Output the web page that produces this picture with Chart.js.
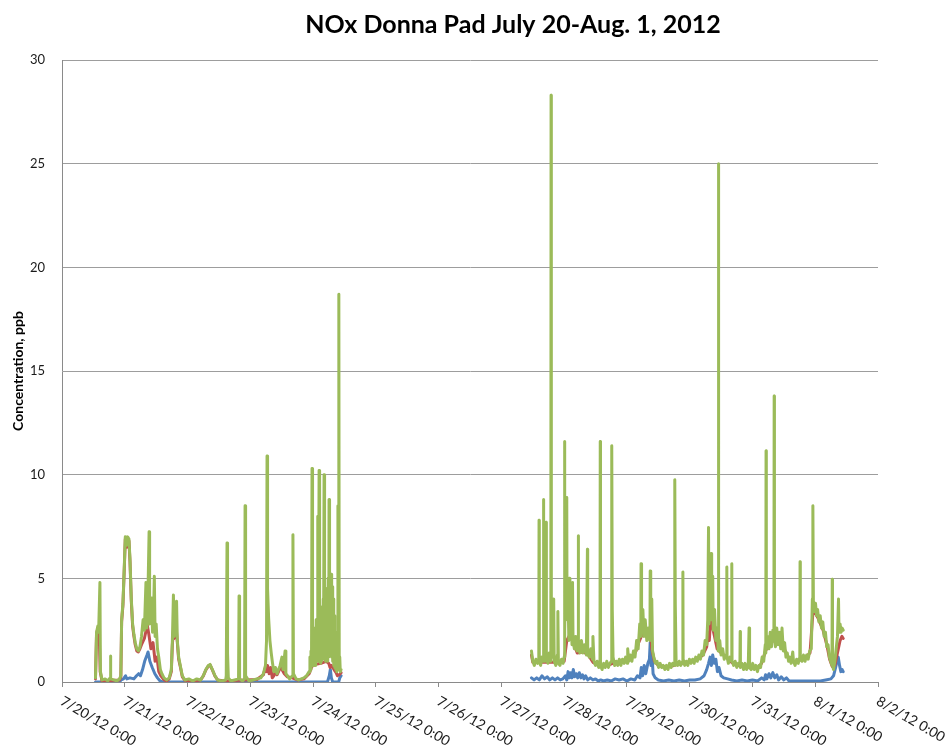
<!DOCTYPE html>
<html>
<head>
<meta charset="utf-8">
<script src="https://cdn.jsdelivr.net/npm/chart.js@4.4.1/dist/chart.umd.min.js"></script>
<style>
  html, body { margin: 0; padding: 0; background: #ffffff; }
  canvas { display: block; }
</style>
</head>
<body>
<canvas id="nox" width="946" height="748"></canvas>
<script>
// Readings as [hours since 7/20/12 0:00, ppb]; the monitor was offline 7/24 - 7/27.
const chartTitle = 'NOx Donna Pad July 20-Aug. 1, 2012';
const yAxisTitle = 'Concentration, ppb';
const dayLabels = ['7/20/12 0:00', '7/21/12 0:00', '7/22/12 0:00', '7/23/12 0:00', '7/24/12 0:00',
  '7/25/12 0:00', '7/26/12 0:00', '7/27/12 0:00', '7/28/12 0:00', '7/29/12 0:00', '7/30/12 0:00',
  '7/31/12 0:00', '8/1/12 0:00', '8/2/12 0:00'];

// NOx, 7/20 - 7/24
const noxFirstRun = [[12.8,0.2],[13.2,2.4],[13.7,2.7],[14.0,2.4],[14.5,4.8],[14.7,0.5],[15.3,0.1],[16.5,0.15],[17.5,0.05],[18.4,0.2],[18.5,1.25],[18.7,0.15],[19.8,0.1],[21.0,0.05],[22.0,0.15],[22.5,0.3],[22.8,3.0],[23.3,3.8],[23.8,5.5],[24.2,7.0],[24.7,6.6],[25.1,7.0],[25.6,6.9],[26.0,5.9],[26.5,4.0],[27.0,2.8],[27.5,2.3],[28.0,1.9],[28.6,1.6],[29.2,1.5],[29.8,1.7],[30.4,2.2],[31.0,3.0],[31.5,2.5],[32.1,4.8],[32.4,2.6],[32.8,3.8],[33.3,7.25],[33.5,2.8],[34.0,3.5],[34.3,4.05],[34.6,2.4],[35.0,3.2],[35.3,5.1],[35.6,2.2],[36.0,2.8],[36.5,1.6],[37.0,1.2],[37.6,0.6],[38.2,0.4],[39.0,0.2],[40.0,0.1],[41.0,0.2],[41.8,0.6],[42.2,2.0],[42.6,4.2],[42.9,2.2],[43.3,2.4],[43.8,3.9],[44.1,2.0],[44.6,1.2],[45.3,0.75],[46.0,0.3],[47.0,0.1],[48.5,0.15],[50.0,0.05],[51.5,0.15],[53.0,0.1],[54.0,0.3],[55.0,0.6],[56.0,0.8],[56.6,0.85],[57.5,0.6],[58.5,0.3],[59.5,0.1],[61.0,0.05],[62.6,0.1],[62.8,0.3],[63.1,6.7],[63.3,1.4],[63.6,0.2],[64.5,0.05],[66.0,0.1],[67.5,0.15],[67.7,4.15],[67.9,0.15],[69.0,0.05],[69.8,0.15],[70.0,8.5],[70.2,0.3],[71.5,0.05],[73.0,0.1],[74.5,0.15],[76.0,0.2],[77.0,0.4],[77.8,0.8],[78.2,2.0],[78.4,10.9],[78.6,4.5],[79.0,3.1],[79.5,2.0],[80.0,1.4],[80.5,0.9],[81.0,0.5],[81.6,0.7],[82.2,0.4],[82.8,0.6],[83.4,0.8],[84.1,1.2],[84.5,0.6],[85.3,1.5],[85.6,0.4],[86.2,0.3],[87.0,0.15],[88.1,0.3],[88.3,7.1],[88.5,0.4],[89.5,0.15],[90.5,0.1],[91.5,0.15],[92.5,0.2],[93.5,0.3],[94.5,0.5],[94.8,1.2],[95.0,0.6],[95.2,1.5],[95.4,0.8],[95.6,10.3],[95.8,0.9],[96.0,2.4],[96.2,0.8],[96.4,2.2],[96.6,0.9],[96.8,2.6],[97.0,0.8],[97.2,3.0],[97.4,1.0],[97.6,2.8],[97.8,8.0],[98.0,1.0],[98.1,3.2],[98.3,10.2],[98.5,1.0],[98.7,3.4],[98.9,0.9],[99.1,3.6],[99.3,1.0],[99.5,3.2],[99.7,1.1],[99.9,4.0],[100.0,1.2],[100.2,10.0],[100.4,1.2],[100.6,4.2],[100.8,1.0],[101.0,4.5],[101.2,1.2],[101.4,3.8],[101.6,1.0],[101.8,5.0],[102.0,1.2],[102.1,8.8],[102.3,1.5],[102.5,5.0],[102.7,1.4],[102.9,5.2],[103.1,1.2],[103.3,4.6],[103.5,1.0],[103.7,4.0],[103.9,0.8],[104.1,3.2],[104.3,0.7],[104.5,2.4],[104.7,0.6],[104.9,1.6],[105.1,0.5],[105.3,1.2],[105.5,8.5],[105.6,0.6],[105.8,1.5],[105.9,18.7],[106.0,0.6],[106.2,1.2],[106.4,0.5],[106.7,0.6]];

// NOx, 7/27 - 8/1
const noxSecondRun = [[179.5,1.5],[180.0,1.0],[180.6,0.8],[181.2,1.1],[181.8,0.9],[182.3,1.0],[182.4,7.8],[182.5,1.0],[183.0,0.8],[183.5,1.2],[184.0,1.0],[184.1,8.8],[184.2,1.3],[184.7,1.0],[185.1,7.7],[185.2,1.2],[185.8,0.9],[186.3,1.4],[186.9,1.0],[187.0,28.3],[187.1,1.5],[187.6,1.2],[188.0,4.0],[188.2,1.0],[188.8,0.8],[189.4,1.3],[189.6,3.4],[189.8,0.9],[190.4,0.8],[191.0,1.1],[191.6,0.9],[192.0,1.2],[192.1,11.6],[192.3,2.5],[192.6,5.5],[192.9,4.0],[193.0,8.9],[193.1,3.0],[193.5,4.0],[193.8,2.0],[194.0,5.0],[194.2,2.4],[194.6,3.2],[195.0,1.8],[195.2,4.8],[195.4,2.0],[195.9,1.6],[196.4,2.2],[196.9,1.5],[197.3,2.2],[197.4,7.05],[197.5,1.8],[198.0,1.4],[198.6,2.0],[199.2,1.4],[199.8,1.8],[200.5,1.3],[200.9,6.4],[201.0,1.4],[201.6,1.2],[202.2,1.6],[202.8,1.1],[203.0,2.2],[203.4,1.0],[204.0,0.8],[204.6,1.0],[205.2,0.7],[205.7,0.9],[205.8,11.6],[205.9,0.8],[206.5,0.6],[207.1,0.9],[207.7,0.7],[208.3,1.0],[208.9,0.7],[209.5,0.9],[210.1,1.0],[210.2,11.4],[210.4,3.5],[210.7,1.2],[211.3,0.8],[211.9,1.0],[212.5,0.8],[213.1,1.1],[213.7,0.8],[214.3,1.1],[214.9,0.9],[215.5,1.2],[216.1,0.9],[216.3,1.6],[216.7,1.0],[217.3,1.3],[217.9,1.0],[218.5,1.5],[219.1,1.2],[219.7,2.0],[220.3,1.6],[220.9,2.8],[221.3,2.2],[221.4,5.7],[221.6,2.5],[222.1,3.5],[222.5,2.2],[223.0,3.0],[223.6,2.0],[224.2,2.6],[224.8,2.0],[224.9,5.35],[225.1,2.5],[225.5,4.0],[225.8,1.5],[226.3,1.2],[226.9,0.9],[227.5,1.0],[228.1,0.7],[228.7,0.9],[229.3,0.7],[229.9,0.8],[230.5,0.6],[231.1,0.8],[231.7,0.6],[232.3,0.9],[232.9,0.7],[233.5,0.9],[234.1,0.8],[234.3,9.75],[234.5,3.7],[234.8,1.0],[235.4,0.8],[236.0,1.0],[236.6,0.8],[237.3,1.0],[237.4,5.3],[237.5,1.1],[238.1,0.8],[238.7,1.0],[239.3,0.8],[239.9,1.1],[240.5,0.9],[241.1,1.1],[241.7,0.9],[242.3,1.2],[242.9,1.0],[243.5,1.3],[244.1,1.1],[244.7,1.5],[245.3,1.3],[245.9,2.0],[246.5,1.8],[246.9,3.0],[247.2,7.45],[247.4,2.8],[247.8,4.0],[248.2,6.2],[248.4,3.0],[248.8,5.1],[249.0,2.5],[249.5,3.5],[250.0,2.0],[250.5,2.6],[250.9,1.5],[251.0,25.0],[251.1,1.6],[251.5,2.0],[252.0,1.3],[252.6,1.6],[253.2,1.1],[253.8,1.3],[254.1,1.2],[254.2,5.55],[254.3,1.2],[254.8,0.9],[255.4,1.2],[256.0,1.0],[256.1,5.7],[256.2,1.0],[256.8,0.8],[257.4,1.0],[258.0,0.7],[258.6,0.9],[259.2,0.8],[259.3,2.43],[259.4,0.7],[260.0,0.9],[260.6,0.6],[261.2,0.9],[261.8,0.6],[262.4,0.8],[262.7,2.6],[262.9,0.7],[263.5,0.6],[264.1,0.9],[264.7,0.6],[265.3,0.8],[265.9,0.5],[266.5,0.8],[267.1,0.7],[267.7,1.2],[268.3,1.0],[268.9,1.8],[269.1,1.4],[269.2,11.15],[269.3,1.6],[269.8,2.2],[270.3,1.6],[270.8,2.4],[271.3,1.7],[271.8,2.5],[272.2,2.0],[272.3,13.8],[272.4,2.2],[272.8,1.7],[273.3,2.6],[273.8,1.8],[274.3,2.4],[274.8,1.6],[275.3,2.6],[275.8,1.5],[276.3,1.9],[276.8,1.2],[277.3,1.4],[277.8,1.0],[278.3,1.2],[278.8,0.9],[279.4,1.45],[279.7,1.0],[280.3,0.8],[280.9,1.1],[281.5,0.9],[282.1,1.2],[282.2,5.8],[282.3,1.2],[282.9,1.0],[283.5,1.3],[284.1,1.0],[284.7,1.3],[285.3,1.1],[285.9,1.5],[286.5,1.6],[286.9,4.0],[287.1,8.5],[287.3,3.9],[287.7,3.4],[288.1,3.8],[288.5,3.2],[288.9,3.5],[289.4,2.9],[289.9,3.2],[290.4,2.6],[290.9,2.9],[291.4,2.2],[291.9,2.4],[292.4,1.7],[292.9,1.8],[293.4,1.2],[293.9,1.0],[294.4,0.8],[294.5,4.95],[294.6,0.8],[295.0,0.6],[295.5,1.0],[296.0,1.6],[296.5,2.2],[296.9,4.0],[297.1,2.4],[297.5,2.8],[297.9,2.4],[298.3,2.6],[298.7,2.5]];

// NO2
const no2FirstRun = [[12.8,0.15],[13.2,2.3],[13.7,2.6],[14.0,2.3],[14.3,2.0],[14.6,0.5],[15.3,0.05],[22.0,0.1],[22.5,0.25],[22.8,2.9],[23.3,3.7],[23.8,5.4],[24.2,6.9],[24.7,6.5],[25.1,6.9],[25.6,6.8],[26.0,5.8],[26.5,3.9],[27.0,2.7],[27.5,2.2],[28.0,1.8],[28.6,1.5],[29.2,1.45],[29.8,1.6],[30.4,1.8],[31.5,2.1],[32.6,2.75],[33.2,2.3],[34.0,1.6],[34.8,1.9],[35.6,1.0],[36.3,1.2],[37.0,0.5],[37.8,0.3],[39.0,0.1],[40.0,0.05],[41.0,0.15],[41.8,0.5],[42.2,1.8],[42.6,2.5],[42.9,2.1],[43.3,2.3],[43.8,2.4],[44.1,1.9],[44.6,1.1],[45.3,0.7],[46.0,0.25],[47.0,0.08],[50.0,0.05],[53.0,0.1],[54.0,0.28],[55.0,0.58],[56.0,0.78],[56.6,0.82],[57.5,0.58],[58.5,0.28],[59.5,0.1],[62.0,0.05],[70.0,0.1],[74.5,0.12],[77.0,0.35],[77.8,0.7],[78.2,0.5],[78.6,0.8],[79.2,0.4],[79.8,0.7],[80.4,0.2],[81.0,0.3],[81.6,0.5],[82.2,0.35],[82.8,0.5],[83.4,0.7],[84.1,0.6],[85.0,0.4],[86.2,0.25],[88.0,0.2],[90.0,0.1],[92.5,0.15],[94.5,0.4],[95.5,0.75],[97.0,0.85],[99.0,0.9],[101.0,1.0],[102.0,0.9],[102.5,0.7],[103.0,0.8],[104.0,0.6],[104.8,0.45],[105.3,0.3],[106.0,0.35],[106.7,0.45]];
const no2SecondRun = [[179.5,1.3],[180.0,0.95],[184.0,0.95],[188.0,0.95],[192.0,1.0],[193.0,2.0],[194.5,2.35],[195.5,1.9],[197.0,1.4],[199.0,1.45],[201.0,1.35],[203.0,0.95],[205.0,0.82],[207.0,0.8],[209.0,0.82],[211.0,0.92],[214.0,0.95],[216.0,1.0],[218.0,1.2],[219.5,1.5],[220.5,1.9],[221.5,2.2],[222.5,2.3],[223.5,2.2],[224.3,2.3],[224.9,2.6],[225.5,1.6],[226.5,1.0],[228.0,0.8],[231.0,0.72],[234.0,0.8],[237.0,0.9],[240.0,0.95],[243.0,1.1],[245.0,1.3],[246.5,1.7],[247.0,2.4],[247.5,2.0],[248.2,3.5],[248.8,2.6],[249.5,2.2],[250.5,1.6],[252.0,1.4],[254.0,1.2],[256.0,0.95],[258.0,0.82],[260.0,0.75],[262.0,0.72],[264.0,0.7],[266.0,0.68],[267.5,0.9],[269.0,1.5],[271.0,1.95],[273.0,2.0],[275.0,1.9],[276.5,1.5],[278.0,1.1],[280.0,0.95],[282.0,1.05],[284.0,1.15],[286.0,1.4],[287.2,3.5],[289.0,3.1],[291.0,2.5],[292.5,1.75],[293.5,1.1],[294.5,0.75],[295.5,0.8],[296.5,1.4],[297.5,2.0],[298.2,2.2],[298.7,2.1]];

// NO
const noFirstRun = [[12.8,0],[22.0,0],[22.6,0.1],[23.5,0.15],[24.3,0.3],[24.8,0.15],[26.0,0.2],[27.5,0.15],[28.5,0.3],[29.3,0.4],[30.0,0.3],[30.8,0.6],[31.6,1.0],[32.5,1.3],[32.9,1.45],[33.6,1.0],[34.5,0.7],[35.5,0.4],[36.5,0.2],[37.5,0.05],[38.5,0],[101.5,0],[102.2,0.3],[102.6,0.6],[103.0,0.2],[103.5,0],[105.8,0],[106.2,0.2],[106.7,0.3]];
const noSecondRun = [[179.5,0.2],[180.5,0.1],[181.5,0.2],[182.5,0.1],[183.5,0.3],[184.5,0.15],[185.5,0.25],[186.5,0.1],[187.5,0.2],[188.5,0.1],[189.5,0.2],[190.5,0.1],[191.5,0.15],[192.5,0.3],[193.0,0.1],[193.5,0.5],[194.0,0.2],[194.5,0.45],[195.0,0.2],[195.5,0.6],[196.0,0.25],[196.6,0.4],[197.2,0.2],[197.8,0.45],[198.4,0.2],[199.0,0.35],[199.6,0.15],[200.2,0.3],[201.0,0.1],[202.0,0.2],[203.0,0.1],[204.0,0.15],[205.0,0.05],[206.0,0.1],[207.0,0.05],[208.5,0.1],[210.0,0.05],[211.5,0.15],[213.0,0.1],[214.5,0.15],[216.0,0.05],[217.5,0.15],[219.0,0.1],[220.0,0.3],[221.0,0.2],[221.5,0.7],[222.0,0.3],[222.6,0.8],[223.2,0.4],[224.0,0.9],[224.6,1.1],[224.9,1.9],[225.2,0.8],[225.6,1.3],[226.0,0.4],[226.8,0.2],[228.0,0.1],[230.0,0.05],[232.0,0.1],[234.0,0.05],[236.0,0.1],[238.0,0.05],[240.0,0.1],[242.0,0.1],[244.0,0.15],[245.5,0.3],[246.5,0.6],[247.2,0.9],[247.8,1.2],[248.3,0.8],[248.8,1.3],[249.4,0.9],[250.0,1.1],[250.6,0.5],[251.2,0.7],[252.0,0.3],[253.0,0.2],[254.5,0.15],[256.0,0.1],[258.0,0.05],[260.0,0.1],[262.0,0.05],[264.0,0.1],[266.0,0.05],[267.5,0.2],[268.5,0.1],[269.0,0.35],[269.5,0.15],[270.3,0.4],[271.0,0.2],[271.8,0.45],[272.5,0.2],[273.3,0.35],[274.0,0.1],[275.0,0.25],[276.0,0.1],[277.0,0.2],[278.0,0.05],[280.0,0.05],[282.0,0.05],[284.0,0.05],[286.0,0.05],[288.0,0.05],[290.0,0.05],[292.0,0.1],[294.0,0.15],[295.0,0.3],[295.8,0.7],[296.3,1.0],[296.8,1.2],[297.3,0.8],[297.8,0.5],[298.3,0.6],[298.7,0.5]];

const outageHour = 140; // break the line while the analyzer was down

function toSeries(firstRun, secondRun) {
  const pts = firstRun.map(([h, v]) => ({ x: h, y: v }));
  pts.push({ x: outageHour, y: null });
  secondRun.forEach(([h, v]) => pts.push({ x: h, y: v }));
  return pts;
}

// Rotated date labels under the axis and the centred heading.
const axisText = {
  id: 'axisText',
  afterDraw(chart) {
    const ctx = chart.ctx;
    const xs = chart.scales.x;
    ctx.save();
    ctx.fillStyle = '#000000';
    ctx.font = 'bold 25px Lato';
    ctx.textAlign = 'center';
    ctx.textBaseline = 'middle';
    ctx.fillText(chartTitle, 513, 25, 417);
    ctx.font = '14px Lato';
    ctx.fillStyle = '#1a1a1a';
    ctx.textAlign = 'left';
    ctx.textBaseline = 'top';
    xs.ticks.forEach((t, i) => {
      const px = xs.getPixelForValue(t.value);
      ctx.save();
      ctx.translate(px + 3, xs.top + 12);
      ctx.rotate(30 * Math.PI / 180);
      ctx.fillText(dayLabels[i], 0, 0, 86);
      ctx.restore();
    });
    ctx.restore();
  }
};

new Chart(document.getElementById('nox'), {
  type: 'line',
  data: {
    datasets: [
      { label: 'NOx', data: toSeries(noxFirstRun, noxSecondRun), borderColor: '#9BBB59', backgroundColor: '#9BBB59' },
      { label: 'NO2', data: toSeries(no2FirstRun, no2SecondRun), borderColor: '#C0504D', backgroundColor: '#C0504D' },
      { label: 'NO', data: toSeries(noFirstRun, noSecondRun), borderColor: '#4F81BD', backgroundColor: '#4F81BD' }
    ]
  },
  options: {
    responsive: false,
    animation: false,
    devicePixelRatio: 1,
    spanGaps: false,
    layout: { padding: { top: 60, right: 68, bottom: 0, left: 0 } },
    elements: {
      line: { borderWidth: 3, tension: 0, borderJoinStyle: 'round', borderCapStyle: 'round' },
      point: { radius: 0, hoverRadius: 0 }
    },
    plugins: { legend: { display: false }, tooltip: { enabled: false }, title: { display: false } },
    scales: {
      x: {
        type: 'linear',
        min: 0,
        max: 312,
        ticks: { stepSize: 24, display: false },
        grid: { display: true, drawOnChartArea: false, drawTicks: true, tickLength: 5, color: '#8a8a8a', lineWidth: 1 },
        border: { color: '#8a8a8a', width: 1 },
        afterFit(scale) { scale.height = 66; }
      },
      y: {
        min: 0,
        max: 30,
        ticks: { stepSize: 5, padding: 17, color: '#1a1a1a', font: { family: 'Lato', size: 13 } },
        grid: { color: '#9d9d9d', lineWidth: 1, drawTicks: false },
        border: { color: '#8a8a8a', width: 1 },
        title: { display: true, text: yAxisTitle, color: '#000000', font: { family: 'Lato', size: 14, weight: 'bold' }, padding: { top: 10, bottom: 0 } },
        afterFit(scale) { scale.width = 62; }
      }
    }
  },
  plugins: [axisText]
});
</script>
</body>
</html>
